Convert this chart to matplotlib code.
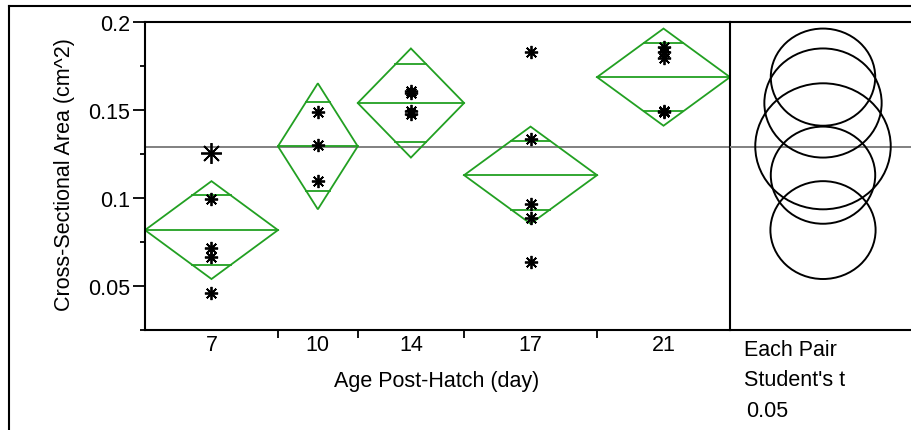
import matplotlib
matplotlib.use("Agg")
import matplotlib.pyplot as plt
import numpy as np
from matplotlib.lines import Line2D
from matplotlib.patches import Ellipse, Polygon

plt.rcParams["font.family"] = ["Liberation Sans", "DejaVu Sans"]

# data
groups = ["7", "10", "14", "17", "21"]
pts_7 = [0.1252, 0.0993, 0.0714, 0.0665, 0.0459]
pts_10 = [0.1489, 0.1299, 0.1097]
pts_14 = [0.1605, 0.1595, 0.1490, 0.1475]
pts_17 = [0.1830, 0.1334, 0.0964, 0.0885, 0.0633]
pts_21 = [0.1855, 0.1828, 0.1795, 0.1495, 0.1485]
points = [pts_7, pts_10, pts_14, pts_17, pts_21]
big_point = (0, 0)  # group 7, first row is drawn with the bigger marker

means = [0.0816, 0.1292, 0.1538, 0.1128, 0.1685]
ci_half = [0.0278, 0.0358, 0.0310, 0.0276, 0.0276]
grand_mean = 0.1286

yticks = [0.05, 0.1, 0.15, 0.2]
ytick_labels = ["0.05", "0.1", "0.15", "0.2"]
yminor = [0.025, 0.075, 0.125, 0.175]
ylim = (0.025, 0.2)

GREEN = "#22a022"
FS = 15.5
W, H = 912, 431
fig = plt.figure(figsize=(W / 100, H / 100), dpi=100)


def px_box(x0, y0, x1, y1):
    return [x0 / W, 1 - y1 / H, (x1 - x0) / W, (y1 - y0) / H]


ax = fig.add_axes(px_box(145, 22.7, 730, 330.7))
ax2 = fig.add_axes(px_box(730, 22.7, 916, 330.7))
ax2.patch.set_visible(False)

# group widths follow sample size, like JMP
counts = [len(p) for p in points]
edges = np.concatenate([[0], np.cumsum(counts)])
centers = (edges[:-1] + edges[1:]) / 2

for i, (pts, m, h) in enumerate(zip(points, means, ci_half)):
    x0, x1, xc = edges[i], edges[i + 1], centers[i]
    half_w = (x1 - x0) / 2
    ax.add_patch(Polygon([[x0, m], [xc, m + h], [x1, m], [xc, m - h]],
                         closed=True, fill=False, edgecolor=GREEN, lw=1.3, zorder=2))
    ax.plot([x0, x1], [m, m], color=GREEN, lw=1.3, zorder=2)
    # overlap marks
    d = h / np.sqrt(2)
    ow = half_w * (1 - 1 / np.sqrt(2))
    for s in (1, -1):
        ax.plot([xc - ow, xc + ow], [m + s * d, m + s * d], color=GREEN, lw=1.3, zorder=2)
    for j, v in enumerate(pts):
        big = (i, j) == big_point
        ax.plot(xc, v, marker=(8, 2, 0), ms=15 if big else 9.5, mew=1.3,
                color="black", ls="none", zorder=4)

ax.axhline(grand_mean, color="#808080", lw=1.4, zorder=1)
ax2.axhline(grand_mean, color="#808080", lw=1.4, zorder=1)

ax.set_xlim(edges[0], edges[-1])
ax.set_ylim(*ylim)
ax.set_yticks(yticks)
ax.set_yticklabels(ytick_labels)
ax.set_yticks(yminor, minor=True)
ax.tick_params(axis="y", which="major", direction="out", length=8.6, width=1.3,
               labelsize=FS, pad=2)
ax.tick_params(axis="y", which="minor", direction="out", length=3.6, width=1.3)
ax.set_xticks(edges[1:-1])
ax.set_xticklabels([])
ax.set_xticks(centers, minor=True)
ax.set_xticklabels(groups, minor=True)
ax.tick_params(axis="x", which="major", direction="out", length=5.8, width=1.3)
ax.tick_params(axis="x", which="minor", length=0, labelsize=FS, pad=3)
for sp in ax.spines.values():
    sp.set_linewidth(1.5)

# comparison circles panel, same y scale
ax2.set_ylim(*ylim)
px_per_y = 308 / (ylim[1] - ylim[0])
half_x = 93 / px_per_y
ax2.set_xlim(-half_x, half_x)
for m, h in zip(means, ci_half):
    ax2.add_patch(Ellipse((0, m), width=2 * h * 1.075, height=2 * h,
                          fill=False, edgecolor="black", lw=1.4, zorder=3))
ax2.set_xticks([])
ax2.set_yticks([])
ax2.spines["left"].set_visible(False)
for sp in ax2.spines.values():
    sp.set_linewidth(1.5)

fig.text(64.7 / W, 1 - 174.2 / H, "Cross-Sectional Area (cm^2)", rotation=90,
         ha="center", va="center", fontsize=FS)
fig.text(436.5 / W, 1 - 386.7 / H, "Age Post-Hatch (day)", ha="center",
         va="baseline", fontsize=FS)
fig.text(744 / W, 1 - 356 / H, "Each Pair", ha="left", va="baseline", fontsize=FS)
fig.text(744 / W, 1 - 386 / H, "Student's t", ha="left", va="baseline", fontsize=FS)
fig.text(746.5 / W, 1 - 416.7 / H, "0.05", ha="left", va="baseline", fontsize=FS)

# report outline frame
fig.add_artist(Line2D([9.3 / W, 1], [1 - 7.3 / H, 1 - 7.3 / H],
                      transform=fig.transFigure, color="black", lw=1.5))
fig.add_artist(Line2D([9.3 / W, 9.3 / W], [1 - 7.3 / H, 0],
                      transform=fig.transFigure, color="black", lw=1.5))

fig.savefig("out.png", dpi=100)
